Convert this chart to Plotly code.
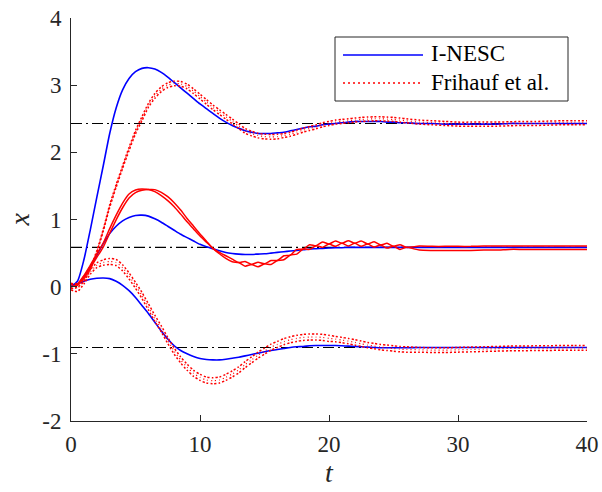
import plotly.graph_objects as go

# ---------------- data ----------------
T = [0, 0.5, 1, 1.5, 2, 2.5, 3, 3.5, 4, 4.5, 5, 5.5, 6, 6.5, 7, 7.5, 8, 8.5, 9, 9.5,
     10, 10.5, 11, 11.5, 12, 12.5, 13, 13.5, 14, 14.5, 15, 15.5, 16, 16.5, 17, 17.5,
     18, 18.5, 19, 19.5, 20, 20.5, 21, 21.5, 22, 22.5, 23, 23.5, 24, 24.5, 25, 25.5, 26,
     27, 28, 29, 30, 31, 32, 33, 34, 35, 36, 37, 38, 39, 40]

# I-NESC (blue)
blue_top = [0.00, 0.08, 0.40, 0.85, 1.33, 1.80, 2.28, 2.66, 2.93, 3.10, 3.20,
            3.25, 3.26, 3.24, 3.19, 3.12, 3.04, 2.96, 2.88, 2.80, 2.72,
            2.65, 2.58, 2.51, 2.45, 2.40, 2.36, 2.32, 2.30, 2.28, 2.28,
            2.28, 2.29, 2.30, 2.32, 2.34, 2.36, 2.38, 2.39, 2.41, 2.42,
            2.43, 2.44, 2.45, 2.46, 2.46, 2.46, 2.46, 2.46, 2.45, 2.45, 2.44, 2.44,
            2.43, 2.43, 2.42, 2.42, 2.42, 2.42, 2.42, 2.43, 2.43, 2.43, 2.43, 2.43, 2.43, 2.43]
blue_mid = [0.00, 0.03, 0.15, 0.30, 0.47, 0.64, 0.79, 0.90, 0.98, 1.03, 1.06,
            1.065, 1.05, 1.01, 0.96, 0.90, 0.84, 0.78, 0.73, 0.68, 0.63,
            0.595, 0.565, 0.535, 0.51, 0.495, 0.485, 0.48, 0.48, 0.485, 0.49,
            0.50, 0.51, 0.52, 0.53, 0.54, 0.55, 0.56, 0.565, 0.57, 0.575,
            0.58, 0.58, 0.585, 0.585, 0.585, 0.585, 0.585, 0.585, 0.585, 0.585, 0.585, 0.585,
            0.585, 0.585, 0.585, 0.585, 0.585, 0.585, 0.585, 0.585, 0.585, 0.585, 0.585, 0.585, 0.585, 0.585]
blue_bot = [0.00, 0.04, 0.08, 0.11, 0.125, 0.13, 0.12, 0.08, 0.02, -0.06, -0.16,
            -0.28, -0.40, -0.53, -0.66, -0.78, -0.88, -0.95, -1.00, -1.04, -1.07,
            -1.085, -1.09, -1.09, -1.08, -1.065, -1.05, -1.03, -1.01, -0.99, -0.97,
            -0.95, -0.935, -0.92, -0.905, -0.895, -0.89, -0.88, -0.875, -0.875, -0.875,
            -0.875, -0.88, -0.885, -0.89, -0.895, -0.90, -0.905, -0.91, -0.91, -0.91, -0.91, -0.91,
            -0.905, -0.905, -0.905, -0.905, -0.905, -0.905, -0.905, -0.905, -0.905, -0.905, -0.905, -0.905, -0.905, -0.905]

# Frihauf et al. (red): centre of the dithered trajectory and half-width of its band
red_top = [0.00, 0.02, 0.10, 0.27, 0.52, 0.84, 1.20, 1.50, 1.78, 2.05, 2.30,
           2.50, 2.70, 2.84, 2.94, 3.00, 3.025, 3.02, 2.98, 2.91, 2.83,
           2.75, 2.67, 2.60, 2.53, 2.46, 2.39, 2.32, 2.28, 2.25, 2.235,
           2.23, 2.235, 2.25, 2.27, 2.30, 2.33, 2.355, 2.38, 2.41, 2.43,
           2.45, 2.46, 2.47, 2.48, 2.49, 2.495, 2.50, 2.50, 2.495, 2.49, 2.48, 2.47,
           2.45, 2.44, 2.43, 2.42, 2.42, 2.42, 2.42, 2.425, 2.43, 2.43, 2.435, 2.44, 2.44, 2.44]
red_top_hw = [0.03, 0.03, 0.02, 0.015, 0.015, 0.015, 0.02, 0.02, 0.02, 0.025, 0.025,
              0.03, 0.03, 0.035, 0.035, 0.035, 0.035, 0.035, 0.035, 0.035, 0.035,
              0.035, 0.035, 0.035, 0.035, 0.035, 0.035, 0.035, 0.035, 0.035, 0.035,
              0.035, 0.035, 0.03, 0.03, 0.03, 0.03, 0.03, 0.03, 0.03, 0.03,
              0.03, 0.03, 0.03, 0.03, 0.03, 0.03, 0.03, 0.03, 0.03, 0.03, 0.03, 0.03,
              0.03, 0.03, 0.03, 0.03, 0.03, 0.03, 0.03, 0.03, 0.03, 0.03, 0.03, 0.03, 0.03, 0.03]
red_mid = [0.00, 0.03, 0.15, 0.30, 0.46, 0.62, 0.83, 1.03, 1.21, 1.35, 1.42,
           1.445, 1.447, 1.43, 1.38, 1.31, 1.22, 1.11, 0.99, 0.88, 0.77,
           0.67, 0.57, 0.50, 0.44, 0.39, 0.36, 0.34, 0.33, 0.33, 0.34,
           0.36, 0.39, 0.43, 0.47, 0.52, 0.56, 0.59, 0.61, 0.625, 0.635,
           0.64, 0.645, 0.645, 0.645, 0.64, 0.635, 0.63, 0.62, 0.61, 0.60, 0.59, 0.585,
           0.575, 0.57, 0.57, 0.57, 0.57, 0.575, 0.575, 0.58, 0.58, 0.58, 0.58, 0.58, 0.58, 0.58]
red_mid_hw = [0.0, 0.01, 0.015, 0.02, 0.025, 0.03, 0.035, 0.035, 0.035, 0.03, 0.02,
              0.01, 0.0, 0.015, 0.025, 0.03, 0.03, 0.03, 0.025, 0.02, 0.015,
              0.008, 0.0, 0.01, 0.02, 0.02, 0.0, 0.035, 0.0, 0.035, 0.0,
              0.03, 0.0, 0.03, 0.0, 0.035, 0.0, 0.035, 0.0, 0.04, 0.0,
              0.04, 0.0, 0.04, 0.0, 0.04, 0.0, 0.04, 0.0, 0.035, 0.0, 0.035, 0.0,
              0.03, 0.03, 0.03, 0.03, 0.03, 0.03, 0.03, 0.025, 0.025, 0.025, 0.025, 0.025, 0.025, 0.025]
red_bot = [0.00, -0.02, 0.08, 0.22, 0.32, 0.36, 0.375, 0.36, 0.28, 0.16, 0.02,
           -0.13, -0.30, -0.47, -0.63, -0.80, -0.96, -1.09, -1.20, -1.29, -1.35,
           -1.39, -1.40, -1.39, -1.35, -1.30, -1.24, -1.16, -1.09, -1.02, -0.96,
           -0.90, -0.86, -0.82, -0.79, -0.77, -0.755, -0.75, -0.75, -0.755, -0.77,
           -0.78, -0.795, -0.81, -0.83, -0.85, -0.87, -0.885, -0.90, -0.91, -0.92, -0.93, -0.935,
           -0.94, -0.945, -0.945, -0.94, -0.935, -0.93, -0.925, -0.92, -0.92, -0.915, -0.915, -0.91, -0.91, -0.91]
red_bot_hw = [0.05, 0.05, 0.04, 0.035, 0.035, 0.04, 0.045, 0.045, 0.045, 0.045, 0.045,
              0.045, 0.045, 0.045, 0.045, 0.045, 0.045, 0.045, 0.045, 0.045, 0.045,
              0.045, 0.045, 0.045, 0.045, 0.045, 0.045, 0.045, 0.045, 0.045, 0.045,
              0.045, 0.045, 0.045, 0.045, 0.045, 0.045, 0.045, 0.045, 0.045, 0.045,
              0.04, 0.04, 0.04, 0.04, 0.04, 0.04, 0.04, 0.04, 0.04, 0.04, 0.04, 0.04,
              0.035, 0.035, 0.035, 0.035, 0.035, 0.035, 0.035, 0.035, 0.035, 0.035, 0.035, 0.035, 0.035, 0.035]

targets = [2.43, 0.585, -0.905]
t_span = [0, 40]

x_ticks = [0, 10, 20, 30, 40]
y_ticks = [-2, -1, 0, 1, 2, 3, 4]
y_tick_text = ["-2", "-1", "0", "1", "2", "3", "4"]

legend_labels = ["I-NESC", "Frihauf et al."]

# ---------------- styling ----------------
FONT = "Liberation Serif"
BLUE = "#0000ff"
RED = "#ff0000"
AX = "#262626"

fig = go.Figure()

for v in targets:
    fig.add_trace(go.Scatter(x=t_span, y=[v, v], mode="lines",
                             line=dict(color="black", width=1.1, dash="11px,4px,2px,4px"),
                             showlegend=False, hoverinfo="skip"))

for ys in (blue_top, blue_mid, blue_bot):
    fig.add_trace(go.Scatter(x=T, y=ys, mode="lines",
                             line=dict(color=BLUE, width=1.6, shape="spline", smoothing=0.6),
                             showlegend=False))

def band(c, hw):
    return [a + b for a, b in zip(c, hw)], [a - b for a, b in zip(c, hw)]

for c, hw, dash in ((red_top, red_top_hw, "2px,2px"), (red_bot, red_bot_hw, "2px,2px"),
                    (red_mid, red_mid_hw, "solid")):
    up, lo = band(c, hw)
    for ys in (up, lo):
        fig.add_trace(go.Scatter(x=T, y=ys, mode="lines",
                                 line=dict(color=RED, width=1.5, dash=dash, shape="spline", smoothing=0.6),
                                 showlegend=False))
    if dash != "solid":
        fig.add_trace(go.Scatter(x=T, y=c, mode="lines",
                                 line=dict(color=RED, width=1.2, dash="1px,3px", shape="spline", smoothing=0.6),
                                 showlegend=False))

# ---------------- manual legend (MATLAB style) ----------------
def px(xp):
    return (xp - 71) / 516.0

def py(yp):
    return (421 - yp) / 403.0

fig.add_shape(type="rect", xref="paper", yref="paper",
              x0=px(335), x1=px(568), y0=py(101), y1=py(37),
              line=dict(color=AX, width=1), fillcolor="white", layer="above")
fig.add_shape(type="line", xref="paper", yref="paper",
              x0=px(343), x1=px(423), y0=py(55), y1=py(55),
              line=dict(color=BLUE, width=1.6), layer="above")
fig.add_shape(type="line", xref="paper", yref="paper",
              x0=px(343), x1=px(423), y0=py(83), y1=py(83),
              line=dict(color=RED, width=1.4, dash="2px,3px"), layer="above")
for label, ycen in zip(legend_labels, (54, 82)):
    fig.add_annotation(xref="paper", yref="paper", x=px(429), y=py(ycen),
                       text=label, showarrow=False, xanchor="left", yanchor="middle",
                       font=dict(family=FONT, size=23, color="black"))

# axis titles
fig.add_annotation(xref="paper", yref="paper", x=px(19), y=0.5, text="x",
                   textangle=-90, showarrow=False, xanchor="center", yanchor="middle",
                   font=dict(family=FONT, size=28, color=AX, style="italic"))
fig.add_annotation(xref="paper", yref="paper", x=0.5, y=py(472), text="t",
                   showarrow=False, xanchor="center", yanchor="middle",
                   font=dict(family=FONT, size=28, color=AX, style="italic"))

fig.update_layout(
    width=602, height=492,
    margin=dict(l=71, r=15, t=18, b=71, autoexpand=False),
    plot_bgcolor="white", paper_bgcolor="white",
    font=dict(family=FONT, size=22, color=AX),
    showlegend=False,
    xaxis=dict(range=[0, 40], tickvals=x_ticks, showline=True, linecolor=AX, linewidth=1,
               ticks="inside", ticklen=6, tickcolor=AX, showgrid=False, zeroline=False,
               automargin=False,
               tickfont=dict(family=FONT, size=23, color=AX), ticklabelstandoff=2),
    yaxis=dict(range=[-2, 4], tickvals=y_ticks, ticktext=y_tick_text, showline=True,
               linecolor=AX, linewidth=1, ticks="inside", ticklen=6, tickcolor=AX,
               showgrid=False, zeroline=False, automargin=False,
               tickfont=dict(family=FONT, size=23, color=AX), ticklabelstandoff=4),
)

fig.write_html("out.html", config={"displayModeBar": False},
               post_script="document.body.style.margin='0px';document.body.style.overflow='hidden';")
